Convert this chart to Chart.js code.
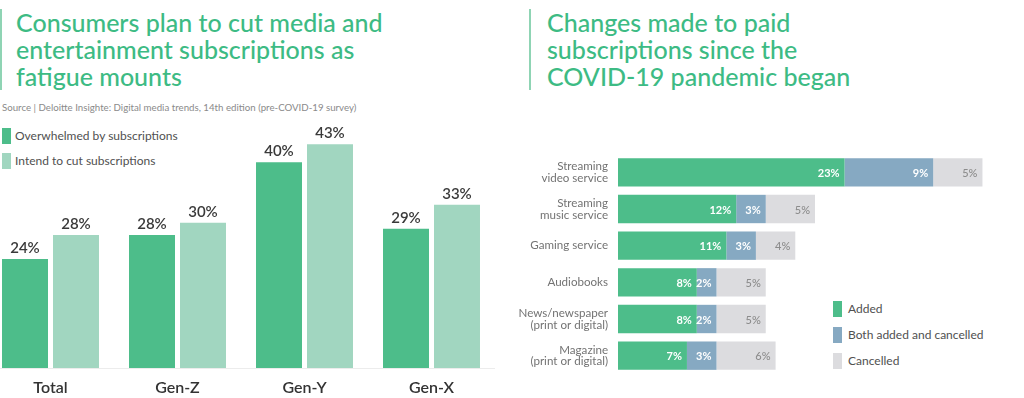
<!DOCTYPE html>
<html>
<head>
<meta charset="utf-8">
<script src="https://cdn.jsdelivr.net/npm/chart.js@4.4.1/dist/chart.umd.min.js"></script>
<style>
  html, body { margin: 0; padding: 0; background: #fff; }
  body { width: 1024px; height: 398px; position: relative; overflow: hidden; font-family: Lato, "Noto Sans", sans-serif; }
  .title { position: absolute; color: #3dbb84; font-size: 25px; line-height: 27px; font-weight: 500; border-left: 2px solid #8fd4b4; }
  .source { position: absolute; left: 2px; top: 101px; font-size: 9.7px; color: #8a8a8a; white-space: nowrap; }
  .legend { position: absolute; font-size: 12px; color: #505050; }
  .legend .item { position: absolute; left: 0; white-space: nowrap; height: 16px; line-height: 16px; }
  .legend .sw { position: absolute; left: 0; top: 0; width: 9px; height: 16px; }
  .legend .tx { position: absolute; top: 0; }
  .box { position: absolute; }
</style>
</head>
<body>

<div class="title" style="left:0; top:9px; padding-left:14px; width:420px;">Consumers plan to cut media and entertainment subscriptions as fatigue mounts</div>
<div class="source">Source | Deloitte Insighte: Digital media trends, 14th edition (pre-COVID-19 survey)</div>
<div class="legend" id="legendLeft" style="left:2px; top:128px;"></div>

<div class="title" style="left:529px; top:9px; padding-left:16px; width:340px;">Changes made to paid<br>subscriptions since the<br>COVID-19 pandemic began</div>
<div class="legend" id="legendRight" style="left:833px; top:301px;"></div>

<div class="box" style="left:-13px; top:0; width:508px; height:398px;"><canvas id="genChart"></canvas></div>
<div class="box" style="left:506px; top:144px; width:506px; height:240px;"><canvas id="subsChart"></canvas></div>

<script>
// ---- data ----
var generations = ['Total', 'Gen-Z', 'Gen-Y', 'Gen-X'];
var overwhelmed = [24, 28, 40, 29];
var intendToCut = [28, 30, 43, 33];

var services = [
  ['Streaming', 'video service'],
  ['Streaming', 'music service'],
  'Gaming service',
  'Audiobooks',
  ['News/newspaper', '(print or digital)'],
  ['Magazine', '(print or digital)']
];
var added = [23, 12, 11, 8, 8, 7];
var addedAndCancelled = [9, 3, 3, 2, 2, 3];
var cancelled = [5, 5, 4, 5, 5, 6];

// ---- colours ----
var GREEN = '#4dbd8a';
var LIGHT_GREEN = '#a1d6c0';
var BLUE = '#86a9c2';
var GREY = '#dcdcdf';

var FONT = 'Lato, "Noto Sans", sans-serif';

/**
 * Build an html legend (narrow tall swatches)
 */
function buildLegend(id, items, spacing, textLeft) {
  var el = document.getElementById(id);
  items.forEach(function(item, i) {
    var row = document.createElement('div');
    row.className = 'item';
    row.style.top = (i * spacing) + 'px';
    row.innerHTML = '<span class="sw" style="background:' + item.color + '"></span>' +
      '<span class="tx" style="left:' + textLeft + 'px">' + item.label + '</span>';
    el.appendChild(row);
  });
}

buildLegend('legendLeft', [
  { label: 'Overwhelmed by subscriptions', color: GREEN },
  { label: 'Intend to cut subscriptions', color: LIGHT_GREEN }
], 25, 13);

buildLegend('legendRight', [
  { label: 'Added', color: GREEN },
  { label: 'Both added and cancelled', color: BLUE },
  { label: 'Cancelled', color: GREY }
], 26, 15);

/**
 * Value labels above the vertical bars
 */
var topLabels = {
  id: 'topLabels',
  afterDatasetsDraw: function(chart) {
    var ctx = chart.ctx;
    ctx.save();
    ctx.font = '600 15px ' + FONT;
    ctx.fillStyle = '#3a3a3a';
    ctx.textAlign = 'center';
    ctx.textBaseline = 'alphabetic';
    chart.data.datasets.forEach(function(ds, di) {
      chart.getDatasetMeta(di).data.forEach(function(bar, i) {
        ctx.fillText(ds.data[i] + '%', bar.x, bar.y - 6);
      });
    });
    ctx.restore();
  }
};

/**
 * Value labels inside the stacked horizontal segments
 */
var segmentLabels = {
  id: 'segmentLabels',
  afterDatasetsDraw: function(chart) {
    var ctx = chart.ctx;
    ctx.save();
    ctx.textAlign = 'right';
    ctx.textBaseline = 'middle';
    chart.data.datasets.forEach(function(ds, di) {
      var light = di === 2;
      ctx.font = (light ? '500 ' : '700 ') + '11px ' + FONT;
      ctx.fillStyle = light ? '#8c8c8c' : '#ffffff';
      chart.getDatasetMeta(di).data.forEach(function(bar, i) {
        ctx.fillText(ds.data[i] + '%', bar.x - 5, bar.y + 1);
      });
    });
    ctx.restore();
  }
};

// ---- left chart: generations ----
new Chart(document.getElementById('genChart'), {
  type: 'bar',
  data: {
    labels: generations,
    datasets: [
      { label: 'Overwhelmed by subscriptions', data: overwhelmed, backgroundColor: GREEN },
      { label: 'Intend to cut subscriptions', data: intendToCut, backgroundColor: LIGHT_GREEN }
    ]
  },
  options: {
    responsive: true,
    maintainAspectRatio: false,
    animation: false,
    layout: { padding: { top: 130, left: 0, right: 0, bottom: 0 } },
    datasets: { bar: { categoryPercentage: 0.803, barPercentage: 0.902 } },
    plugins: { legend: { display: false }, tooltip: { enabled: false } },
    scales: {
      x: {
        grid: { display: false, drawTicks: false },
        border: { display: true, color: '#ececec' },
        ticks: { padding: 10, color: '#333', font: { family: FONT, size: 16, weight: '600' } },
        afterFit: function(scale) { scale.height = 30; }
      },
      y: {
        display: false,
        min: 6,
        max: 45.34
      }
    }
  },
  plugins: [topLabels]
});

// ---- right chart: subscription changes ----
new Chart(document.getElementById('subsChart'), {
  type: 'bar',
  data: {
    labels: services,
    datasets: [
      { label: 'Added', data: added, backgroundColor: GREEN },
      { label: 'Both added and cancelled', data: addedAndCancelled, backgroundColor: BLUE },
      { label: 'Cancelled', data: cancelled, backgroundColor: GREY }
    ]
  },
  options: {
    indexAxis: 'y',
    responsive: true,
    maintainAspectRatio: false,
    animation: false,
    layout: { padding: { top: 10, bottom: 10, left: 0, right: 0 } },
    datasets: { bar: { categoryPercentage: 0.774, barPercentage: 1 } },
    plugins: { legend: { display: false }, tooltip: { enabled: false } },
    scales: {
      x: { display: false, stacked: true, min: 0, max: 40 },
      y: {
        stacked: true,
        grid: { display: false, drawTicks: false },
        border: { display: false },
        ticks: { padding: 10, color: '#737373', font: { family: FONT, size: 11.6, lineHeight: 1.02 } },
        afterFit: function(scale) {
          scale.width = 112;
          // keep the two-line labels from shrinking the plot
          scale.paddingTop = 0;
          scale.paddingBottom = 0;
        }
      }
    }
  },
  plugins: [segmentLabels]
});
</script>
</body>
</html>
